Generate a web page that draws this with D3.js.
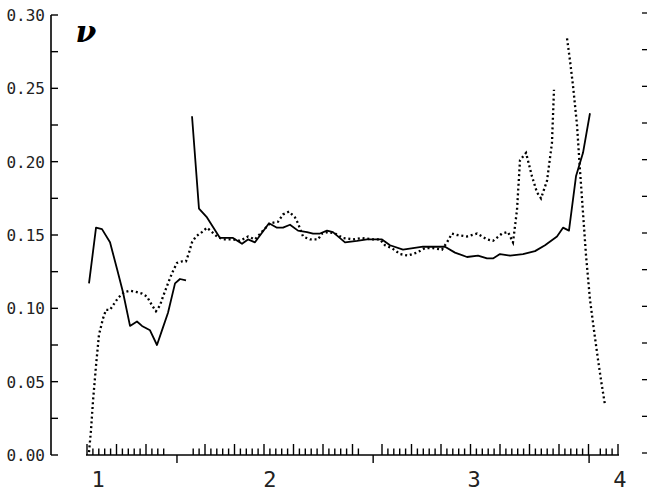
<!DOCTYPE html>
<html>
<head>
<meta charset="utf-8">
<script src="https://cdn.jsdelivr.net/npm/d3@7"></script>
<style>
  body { margin: 0; background: #fff; }
</style>
</head>
<body>
<div id="chart"></div>
<script>
// x runs over sample index (one rug tick per sample on the baseline)
const sampleCount = 90;
const xLabels = ["1", "2", "3", "4"];
const xLabelAt = [1.9, 31.0, 65.6, 90.3];
const xMajorAt = [15.25, 48.5, 85.1];
const rugGaps = [14, 15, 16, 17, 47, 48, 49, 86];

const yMinorTicks = [0, 0.025, 0.05, 0.075, 0.1, 0.125, 0.15, 0.175, 0.2, 0.225, 0.25, 0.275, 0.3];
const yLabelTicks = [0, 0.05, 0.1, 0.15, 0.2, 0.25, 0.3];

// solid curve, first piece
const solidA = [
  [0.34, 0.117], [1.53, 0.155], [2.54, 0.154], [3.9, 0.145], [5.08, 0.127],
  [6.1, 0.111], [7.29, 0.088], [8.47, 0.091], [9.32, 0.088], [10.68, 0.085],
  [11.86, 0.075], [12.88, 0.087], [13.73, 0.097], [14.92, 0.117], [15.76, 0.12],
  [16.78, 0.119]
];

// solid curve, second piece
const solidB = [
  [17.8, 0.231], [18.98, 0.168], [20.34, 0.162], [22.54, 0.148], [24.75, 0.148],
  [26.27, 0.144], [27.29, 0.147], [28.47, 0.145], [30.85, 0.158], [32.2, 0.155],
  [33.22, 0.155], [34.41, 0.157], [35.76, 0.153], [37.29, 0.152], [38.31, 0.151],
  [39.49, 0.151], [40.68, 0.153], [41.69, 0.152], [43.73, 0.145], [45.76, 0.146],
  [47.46, 0.147], [50.0, 0.147], [51.36, 0.143], [53.56, 0.14], [55.25, 0.141],
  [56.95, 0.142], [58.64, 0.142], [60.68, 0.142], [62.37, 0.138], [64.41, 0.135],
  [66.27, 0.136], [67.8, 0.134], [68.81, 0.134], [70.0, 0.137], [71.69, 0.136],
  [73.9, 0.137], [75.93, 0.139], [77.63, 0.143], [79.66, 0.149], [80.68, 0.155],
  [81.69, 0.153], [82.88, 0.19], [84.07, 0.206], [85.25, 0.233]
];

// dotted curve, main piece
const dottedA = [
  [0.34, 0.002], [0.68, 0.017], [1.02, 0.037], [1.53, 0.061], [2.03, 0.082],
  [2.71, 0.093], [3.22, 0.099], [3.9, 0.099], [4.58, 0.103], [5.25, 0.107],
  [6.27, 0.111], [7.29, 0.112], [8.47, 0.111], [9.32, 0.11], [10.17, 0.108],
  [11.02, 0.102], [11.69, 0.098], [12.37, 0.102], [12.88, 0.108], [13.73, 0.117],
  [14.41, 0.124], [15.25, 0.131], [16.1, 0.132], [16.78, 0.132], [17.29, 0.138],
  [17.8, 0.145], [18.47, 0.149], [19.49, 0.152], [20.34, 0.155], [21.19, 0.152],
  [22.03, 0.149], [23.05, 0.147], [24.75, 0.147], [25.93, 0.146], [27.29, 0.149],
  [28.47, 0.147], [29.83, 0.153], [31.02, 0.158], [32.37, 0.159], [33.22, 0.164],
  [34.24, 0.166], [35.25, 0.162], [35.76, 0.158], [36.61, 0.149], [37.8, 0.147],
  [39.15, 0.147], [39.83, 0.151], [40.85, 0.152], [42.03, 0.151], [43.39, 0.148],
  [45.08, 0.147], [46.61, 0.148], [48.31, 0.147], [49.66, 0.147], [50.51, 0.143],
  [51.69, 0.141], [53.05, 0.137], [54.41, 0.136], [55.93, 0.138], [57.29, 0.141],
  [58.64, 0.141], [60.17, 0.14], [61.02, 0.145], [61.86, 0.151], [62.71, 0.15],
  [64.41, 0.149], [66.1, 0.151], [67.8, 0.147], [68.81, 0.146], [70.34, 0.151],
  [71.36, 0.152], [72.2, 0.145], [72.88, 0.167], [73.39, 0.201], [74.41, 0.206],
  [75.42, 0.19], [76.27, 0.179], [76.95, 0.175], [77.97, 0.187], [78.81, 0.213],
  [79.15, 0.249]
];

// dotted curve, last piece
const dottedB = [
  [81.36, 0.284], [81.86, 0.269], [82.37, 0.252], [83.05, 0.225], [83.56, 0.194],
  [84.07, 0.165], [84.58, 0.136], [85.25, 0.106], [85.93, 0.085], [86.61, 0.065],
  [87.12, 0.051], [87.8, 0.034]
];

const width = 647, height = 494;

const svg = d3.select("#chart").append("svg")
    .attr("width", width)
    .attr("height", height);

const x = d3.scaleLinear().domain([0, sampleCount]).range([87, 618]);
const y = d3.scaleLinear().domain([0, 0.3]).range([455, 15]);

// left axis
svg.append("line")
    .attr("x1", 51).attr("x2", 51)
    .attr("y1", y(0.3)).attr("y2", y(0))
    .attr("stroke", "#000").attr("stroke-width", 1.6);

svg.selectAll(".ytick")
    .data(yMinorTicks)
    .enter().append("line")
    .attr("x1", 51).attr("x2", 58)
    .attr("y1", d => y(d)).attr("y2", d => y(d))
    .attr("stroke", "#000").attr("stroke-width", 1.4);

svg.selectAll(".ylabel")
    .data(yLabelTicks)
    .enter().append("text")
    .attr("x", 45)
    .attr("y", d => y(d) + 6)
    .attr("text-anchor", "end")
    .attr("font-family", "DejaVu Sans Mono")
    .attr("font-size", "16px")
    .attr("fill", "#222")
    .text(d => d.toFixed(2));

// right edge marks
svg.selectAll(".rtick")
    .data(yMinorTicks)
    .enter().append("line")
    .attr("x1", 642).attr("x2", 647)
    .attr("y1", d => y(d) - 2).attr("y2", d => y(d) - 2)
    .attr("stroke", "#000").attr("stroke-width", 1.3);

// baseline with sample rug
svg.append("line")
    .attr("x1", x(0) - 1).attr("x2", x(sampleCount) + 1)
    .attr("y1", y(0)).attr("y2", y(0))
    .attr("stroke", "#000").attr("stroke-width", 1.5);

const rug = d3.range(0, sampleCount + 1).filter(i => rugGaps.indexOf(i) < 0);
svg.selectAll(".rug")
    .data(rug)
    .enter().append("line")
    .attr("x1", d => x(d)).attr("x2", d => x(d))
    .attr("y1", y(0))
    .attr("y2", d => y(0) - (d % 5 === 0 ? 11 : 6.5))
    .attr("stroke", "#000").attr("stroke-width", 1.4);

svg.selectAll(".xmajor")
    .data(xMajorAt)
    .enter().append("line")
    .attr("x1", d => x(d)).attr("x2", d => x(d))
    .attr("y1", y(0)).attr("y2", y(0) + 8)
    .attr("stroke", "#000").attr("stroke-width", 1.4);

svg.selectAll(".xlabel")
    .data(xLabels)
    .enter().append("text")
    .attr("x", (d, i) => x(xLabelAt[i]))
    .attr("y", 487)
    .attr("text-anchor", "middle")
    .attr("font-family", "DejaVu Sans Mono")
    .attr("font-size", "22px")
    .attr("fill", "#222")
    .text(d => d);

// nu symbol
svg.append("text")
    .attr("x", 86).attr("y", 42)
    .attr("text-anchor", "middle")
    .attr("font-family", "DejaVu Serif")
    .attr("font-weight", "bold")
    .attr("font-style", "italic")
    .attr("font-size", "30px")
    .text("\u03bd");

const line = d3.line()
    .x(d => x(d[0]))
    .y(d => y(d[1]));

[solidA, solidB].forEach(s => {
    svg.append("path")
        .datum(s)
        .attr("d", line)
        .attr("fill", "none")
        .attr("stroke", "#000")
        .attr("stroke-width", 1.8)
        .attr("stroke-linejoin", "round");
});

[dottedA, dottedB].forEach(s => {
    svg.append("path")
        .datum(s)
        .attr("d", line)
        .attr("fill", "none")
        .attr("stroke", "#000")
        .attr("stroke-width", 2.3)
        .attr("stroke-dasharray", "2,2.8");
});
</script>
</body>
</html>
